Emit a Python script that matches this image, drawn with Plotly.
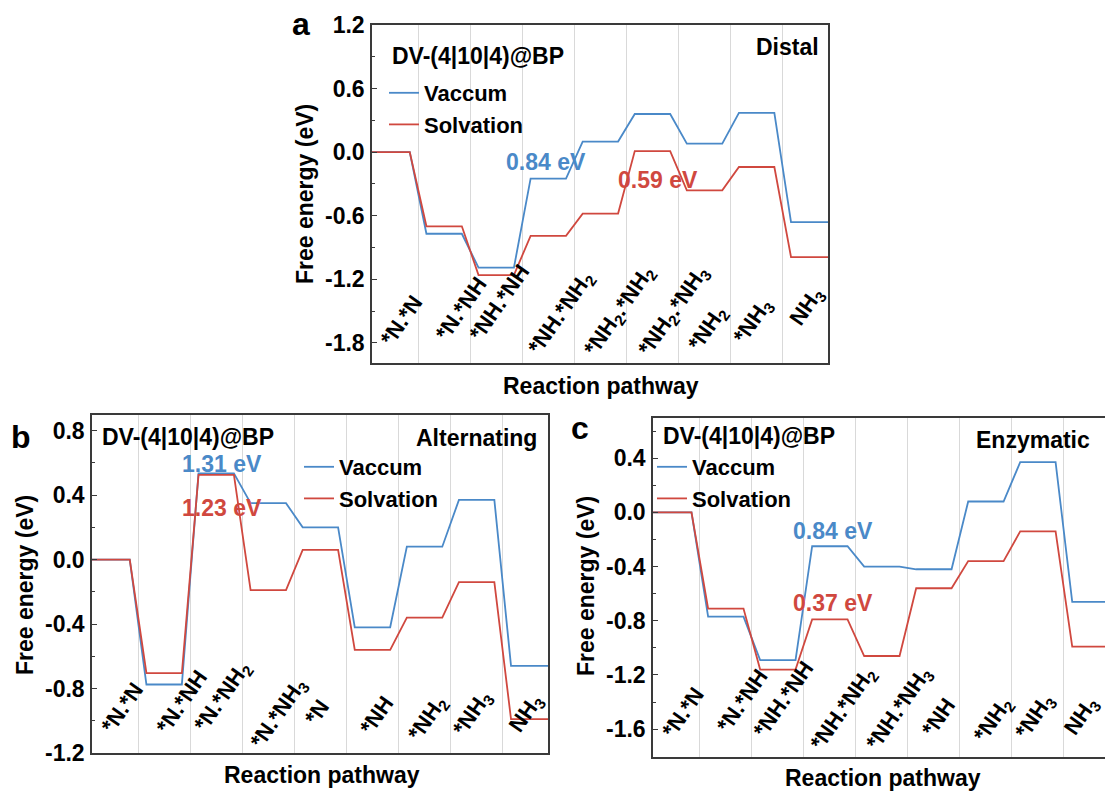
import plotly.graph_objects as go

FONT = "Liberation Sans, Arial, sans-serif"
BLUE = "#4a89c8"
RED = "#d0483f"
AXIS = "#3a3a3a"
W, H = 1105, 791
FS = 23

# ---- (a) distal pathway ----
labels_a = ["*N.*N", "*N.*NH", "*NH.*NH", "*NH.*NH<sub>2</sub>",
            "*NH<sub>2</sub>.*NH<sub>2</sub>", "*NH<sub>2</sub>.*NH<sub>3</sub>",
            "*NH<sub>2</sub>", "*NH<sub>3</sub>", "NH<sub>3</sub>"]
vacuum_a = [0.00, -0.77, -1.09, -0.25, 0.10, 0.36, 0.08, 0.37, -0.66]
solvation_a = [0.00, -0.70, -1.16, -0.79, -0.58, 0.01, -0.36, -0.14, -0.99]

# ---- (b) alternating pathway ----
labels_b = ["*N.*N", "*N.*NH", "*N.*NH<sub>2</sub>", "*N.*NH<sub>3</sub>", "*N",
            "*NH", "*NH<sub>2</sub>", "*NH<sub>3</sub>", "NH<sub>3</sub>"]
vacuum_b = [0.00, -0.775, 0.535, 0.35, 0.20, -0.42, 0.08, 0.37, -0.66]
solvation_b = [0.00, -0.705, 0.525, -0.19, 0.06, -0.56, -0.36, -0.14, -0.99]

# ---- (c) enzymatic pathway ----
labels_c = ["*N.*N", "*N.*NH", "*NH.*NH", "*NH.*NH<sub>2</sub>", "*NH.*NH<sub>3</sub>",
            "*NH", "*NH<sub>2</sub>", "*NH<sub>3</sub>", "NH<sub>3</sub>"]
vacuum_c = [0.00, -0.77, -1.09, -0.25, -0.40, -0.42, 0.08, 0.37, -0.66]
solvation_c = [0.00, -0.71, -1.16, -0.79, -1.06, -0.56, -0.36, -0.14, -0.99]

# limiting-step energies and the series they belong to
pds_a = [("0.84 eV", "vac"), ("0.59 eV", "sol")]
pds_b = [("1.31 eV", "vac"), ("1.23 eV", "sol")]
pds_c = [("0.84 eV", "vac"), ("0.37 eV", "sol")]

HALF = 0.34  # half width of each energy level

panels = [
    dict(key="", labels=labels_a, vac=vacuum_a, sol=solvation_a, pds=pds_a,
         name="Distal", letter="a",
         xdom=(372 / W, 828 / W), ydom=(1 - 363 / H, 1 - 25 / H),
         xr=(-0.385, 8.37), yr=(-1.99, 1.2), dtick=0.6, y0=-1.8, y1=1.2,
         lab_x=[0.18, 1.33, 2.06, 3.26, 4.38, 5.42, 6.07, 6.93, 7.97],
         lab_y=[-1.59, -1.48, -1.42, -1.52, -1.50, -1.50, -1.67, -1.60, -1.46],
         pds_xy=[(2.95, -0.09), (5.10, -0.26)],
         head=(-0.03, 0.91), name_xy=(8.23, 0.995),
         leg=(384 / W, 1 - 72 / H),
         letter_xy=(301 / W, 1 - 24 / H),
         ytitle=(305 / W, 1 - 194 / H), xtitle=(601 / W, 1 - 386 / H),
         mirror_y=True),
    dict(key="2", labels=labels_b, vac=vacuum_b, sol=solvation_b, pds=pds_b,
         name="Alternating", letter="b",
         xdom=(92 / W, 548 / W), ydom=(1 - 753 / H, 1 - 415 / H),
         xr=(-0.385, 8.37), yr=(-1.2, 0.897), dtick=0.4, y0=-1.2, y1=0.8,
         lab_x=[0.20, 1.34, 2.13, 3.21, 3.93, 5.08, 6.07, 6.93, 7.96],
         lab_y=[-0.92, -0.88, -0.85, -0.96, -0.95, -0.97, -0.99, -0.96, -0.96],
         pds_xy=[(2.11, 0.59), (2.11, 0.32)],
         head=(-0.23, 0.758), name_xy=(8.19, 0.753),
         leg=(299 / W, 1 - 446 / H),
         letter_xy=(21 / W, 1 - 437 / H),
         ytitle=(25 / W, 1 - 585 / H), xtitle=(322 / W, 1 - 775 / H),
         mirror_y=True),
    dict(key="3", labels=labels_c, vac=vacuum_c, sol=solvation_c, pds=pds_c,
         name="Enzymatic", letter="c",
         xdom=(653 / W, 1.0), ydom=(1 - 757 / H, 1 - 418 / H),
         xr=(-0.4, 8.29), yr=(-1.805, 0.696), dtick=0.4, y0=-1.6, y1=0.4,
         lab_x=[0.18, 1.32, 2.10, 3.27, 4.34, 5.08, 6.15, 6.95, 7.84],
         lab_y=[-1.48, -1.39, -1.38, -1.45, -1.45, -1.51, -1.53, -1.51, -1.51],
         pds_xy=[(3.06, -0.14), (3.06, -0.67)],
         head=(-0.25, 0.56), name_xy=(8.04, 0.535),
         leg=(652 / W, 1 - 446 / H),
         letter_xy=(580 / W, 1 - 428 / H),
         ytitle=(586 / W, 1 - 586 / H), xtitle=(883 / W, 1 - 778 / H),
         mirror_y=False),
]


def level_path(values):
    """Step profile: a flat level per intermediate joined by sloped lines."""
    xs, ys = [], []
    n = len(values)
    for i, v in enumerate(values):
        xs += [-1.0 if i == 0 else i - HALF, 9.0 if i == n - 1 else i + HALF]
        ys += [v, v]
    return xs, ys


def fmt(v):
    v = round(v, 1)
    return f"{0.0:.1f}" if v == 0 else f"{v:.1f}"


fig = go.Figure()
annotations = []
bold = dict(family=FONT, weight="bold", color="black")


def paper_text(x, y, text, size=FS, angle=0):
    return dict(x=x, y=y, xref="paper", yref="paper", xanchor="center",
                yanchor="middle", text=text, textangle=angle, showarrow=False,
                font=dict(size=size, **bold))


for p in panels:
    k = p["key"]
    xa, ya = "x" + k, "y" + k
    legend_id = "legend" + k
    for vals, nm, col in ((p["vac"], "Vaccum", BLUE), (p["sol"], "Solvation", RED)):
        xs, ys = level_path(vals)
        fig.add_trace(go.Scatter(x=xs, y=ys, mode="lines", name=nm,
                                 line=dict(color=col, width=1.8),
                                 xaxis=xa, yaxis=ya, legend=legend_id,
                                 hoverinfo="skip"))

    n_ticks = int(round((p["y1"] - p["y0"]) / p["dtick"])) + 1
    yt = [p["y0"] + j * p["dtick"] for j in range(n_ticks)]
    fig.update_layout(**{
        "xaxis" + k: dict(domain=list(p["xdom"]), range=list(p["xr"]), anchor=ya,
                          tickvals=[i + 0.5 for i in range(len(p["labels"]) - 1)],
                          showticklabels=False, ticks="", showgrid=True,
                          gridcolor="#d9d9d9", gridwidth=1, zeroline=False,
                          showline=True, linecolor=AXIS, linewidth=1.5, mirror=True,
                          automargin=False),
        "yaxis" + k: dict(domain=list(p["ydom"]), range=list(p["yr"]), anchor=xa,
                          tickvals=yt, ticktext=[fmt(v) for v in yt],
                          ticks="inside", ticklen=5, tickwidth=1.2, tickcolor=AXIS,
                          minor=dict(ticks="inside", ticklen=3, tickwidth=1,
                                     tickcolor=AXIS, dtick=p["dtick"] / 2,
                                     tick0=p["y0"]),
                          tickfont=dict(size=FS, **bold), showgrid=False,
                          zeroline=False, showline=True, linecolor=AXIS,
                          linewidth=1.5, mirror=p["mirror_y"], ticklabelstandoff=1,
                          automargin=False),
        legend_id: dict(x=p["leg"][0], y=p["leg"][1], xanchor="left", yanchor="top",
                        xref="paper", yref="paper", bgcolor="rgba(0,0,0,0)",
                        itemwidth=30, tracegroupgap=0,
                        font=dict(size=FS - 1, **bold)),
    })

    # rotated intermediate labels
    for txt, lx, ly in zip(p["labels"], p["lab_x"], p["lab_y"]):
        annotations.append(dict(x=lx, y=ly, xref=xa, yref=ya, text=txt,
                                xanchor="center", yanchor="middle",
                                showarrow=False, textangle=-55,
                                font=dict(size=FS - 1, **bold)))
    # limiting-step energies
    for (txt, which), (px, py) in zip(p["pds"], p["pds_xy"]):
        annotations.append(dict(x=px, y=py, xref=xa, yref=ya, text=txt,
                                xanchor="center", yanchor="middle", showarrow=False,
                                font=dict(size=FS, family=FONT, weight="bold",
                                          color=BLUE if which == "vac" else RED)))
    annotations.append(dict(x=p["head"][0], y=p["head"][1], xref=xa, yref=ya,
                            xanchor="left", yanchor="middle", text="DV-(4|10|4)@BP",
                            showarrow=False, font=dict(size=FS, **bold)))
    annotations.append(dict(x=p["name_xy"][0], y=p["name_xy"][1], xref=xa, yref=ya,
                            xanchor="right", yanchor="middle", text=p["name"],
                            showarrow=False, font=dict(size=FS, **bold)))
    annotations.append(paper_text(*p["letter_xy"], p["letter"], size=32))
    annotations.append(paper_text(*p["ytitle"], "Free energy (eV)", angle=-90))
    annotations.append(paper_text(*p["xtitle"], "Reaction pathway"))

fig.update_layout(width=W, height=H, margin=dict(l=0, r=0, t=0, b=0),
                  paper_bgcolor="white", plot_bgcolor="white",
                  annotations=annotations, showlegend=True,
                  font=dict(family=FONT))

fig.write_html("out.html")
